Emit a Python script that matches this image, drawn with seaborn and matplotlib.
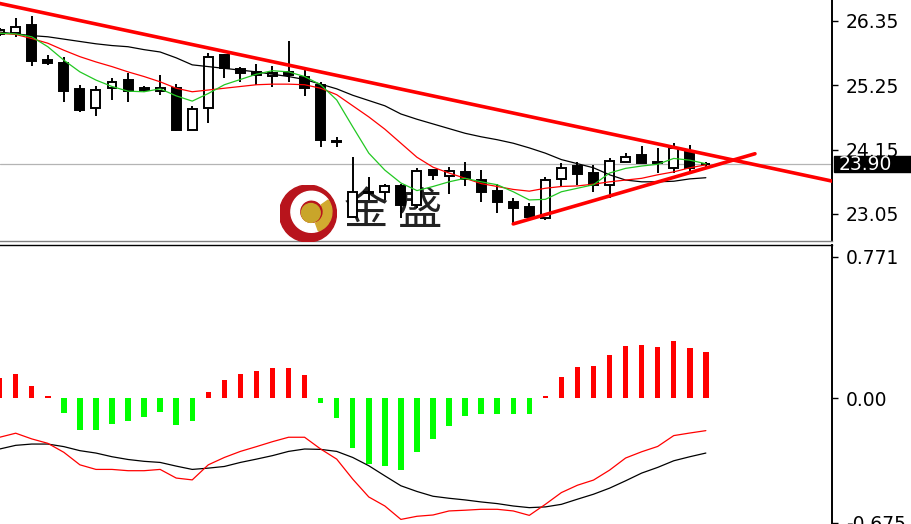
import numpy as np
import pandas as pd
import matplotlib.pyplot as plt
import matplotlib.transforms as mtransforms
from matplotlib.patches import Circle, Wedge, Rectangle
import seaborn as sns

# candles (one per bar, oldest first)
opens = [26.13, 26.14, 26.28, 25.68, 25.64, 25.18, 24.87, 25.21, 25.34, 25.20,
         25.16, 25.20, 24.49, 24.86, 25.77, 25.53, 25.47, 25.41, 25.48, 25.40,
         25.26, 24.29, 23.00, 23.43, 23.42, 23.52, 23.20, 23.80, 23.70, 23.76,
         23.63, 23.45, 23.26, 23.17, 22.98, 23.65, 23.87, 23.75, 23.55, 23.94,
         24.06, 23.94, 23.84, 24.13, 23.90]
highs = [26.23, 26.40, 26.44, 25.77, 25.74, 25.26, 25.23, 25.38, 25.46, 25.24,
         25.43, 25.27, 24.90, 25.80, 25.79, 25.56, 25.61, 25.58, 26.00, 25.51,
         25.31, 24.37, 24.03, 23.68, 23.57, 23.56, 23.83, 23.80, 23.86, 23.94,
         23.80, 23.57, 23.32, 23.24, 23.68, 23.93, 23.94, 23.89, 24.00, 24.10,
         24.21, 24.17, 24.26, 24.23, 23.94]
lows = [26.09, 26.08, 25.58, 25.60, 24.97, 24.80, 24.73, 25.00, 24.97, 25.14,
        25.08, 24.47, 24.48, 24.60, 25.37, 25.31, 25.26, 25.22, 25.31, 25.07,
        24.20, 24.20, 22.98, 23.29, 23.29, 22.98, 23.15, 23.63, 23.40, 23.53,
        23.26, 23.06, 22.88, 22.95, 22.95, 23.53, 23.55, 23.43, 23.32, 23.94,
        23.92, 23.75, 23.75, 23.77, 23.85]
closes = [26.20, 26.25, 25.67, 25.63, 25.15, 24.83, 25.17, 25.31, 25.16, 25.17,
          25.21, 24.48, 24.84, 25.74, 25.54, 25.46, 25.42, 25.46, 25.43, 25.20,
          24.31, 24.28, 23.43, 23.41, 23.52, 23.20, 23.79, 23.72, 23.78, 23.65,
          23.43, 23.26, 23.15, 22.99, 23.63, 23.83, 23.73, 23.55, 23.96, 24.03,
          23.92, 23.92, 24.17, 23.84, 23.90]

# moving averages
ma_green = [26.14, 26.13, 26.08, 25.91, 25.68, 25.48, 25.34, 25.23, 25.15, 25.14,
            25.19, 25.07, 24.98, 25.11, 25.26, 25.35, 25.44, 25.50, 25.48, 25.40,
            25.26, 25.00, 24.54, 24.09, 23.80, 23.58, 23.45, 23.52, 23.60, 23.66,
            23.60, 23.55, 23.43, 23.29, 23.30, 23.43, 23.49, 23.55, 23.75, 23.83,
            23.87, 23.90, 24.00, 23.97, 23.91]
ma_red = [26.14, 26.12, 26.05, 25.97, 25.85, 25.74, 25.65, 25.57, 25.48, 25.40,
          25.31, 25.20, 25.14, 25.17, 25.20, 25.23, 25.26, 25.27, 25.27, 25.26,
          25.20, 25.09, 24.90, 24.71, 24.50, 24.26, 24.02, 23.85, 23.75, 23.66,
          23.57, 23.52, 23.47, 23.44, 23.49, 23.52, 23.53, 23.56, 23.60, 23.63,
          23.66, 23.72, 23.77, 23.84, 23.89]
ma_black = [26.16, 26.13, 26.10, 26.08, 26.04, 26.00, 25.96, 25.93, 25.91, 25.86,
            25.82, 25.72, 25.60, 25.57, 25.54, 25.51, 25.48, 25.44, 25.40, 25.35,
            25.27, 25.19, 25.08, 24.99, 24.90, 24.76, 24.67, 24.59, 24.51, 24.43,
            24.37, 24.32, 24.26, 24.18, 24.09, 23.98, 23.91, 23.84, 23.72, 23.63,
            23.60, 23.60, 23.61, 23.65, 23.67]

# MACD panel
macd_hist = [0.113, 0.135, 0.066, 0.015, -0.078, -0.171, -0.171, -0.137, -0.122, -0.100,
             -0.071, -0.142, -0.122, 0.033, 0.098, 0.135, 0.149, 0.164, 0.164, 0.127,
             -0.024, -0.108, -0.271, -0.359, -0.366, -0.390, -0.293, -0.222, -0.151, -0.098,
             -0.084, -0.084, -0.084, -0.084, 0.015, 0.115, 0.171, 0.178, 0.235, 0.286,
             0.293, 0.280, 0.315, 0.273, 0.251]
macd_red = [-0.211, -0.189, -0.220, -0.244, -0.293, -0.361, -0.386, -0.386, -0.393, -0.393,
            -0.386, -0.433, -0.443, -0.361, -0.321, -0.288, -0.262, -0.235, -0.211, -0.211,
            -0.275, -0.330, -0.439, -0.536, -0.585, -0.658, -0.641, -0.634, -0.612, -0.608,
            -0.603, -0.603, -0.612, -0.636, -0.576, -0.512, -0.472, -0.444, -0.390, -0.324,
            -0.290, -0.261, -0.202, -0.188, -0.175]
macd_black = [-0.275, -0.255, -0.248, -0.248, -0.262, -0.284, -0.297, -0.317, -0.332, -0.342,
              -0.348, -0.368, -0.386, -0.379, -0.370, -0.348, -0.330, -0.311, -0.288, -0.275,
              -0.277, -0.288, -0.321, -0.366, -0.421, -0.475, -0.506, -0.532, -0.543, -0.552,
              -0.563, -0.572, -0.585, -0.594, -0.590, -0.576, -0.548, -0.521, -0.488, -0.448,
              -0.406, -0.375, -0.339, -0.317, -0.297]

last_price = 23.90
price_ticks = [26.35, 25.25, 24.15, 23.05]
price_labels = ["26.35", "25.25", "24.15", "23.05"]
macd_ticks = [0.771, 0.0, -0.675]
macd_labels = ["0.771", "0.00", "-0.675"]

# hand drawn trend lines (bar index, price)
upper_x = [0, 51.9]
upper_y = [26.65, 23.61]
lower_x = [32, 47.06]
lower_y = [22.88, 24.08]

sns.set_style("white")
plt.rcParams['font.family'] = ['DejaVu Sans', 'Noto Sans CJK SC']

W, H = 911, 524
fig = plt.figure(figsize=(W / 100, H / 100), dpi=100)
ax1 = fig.add_axes([0, 1 - 241 / H, 832 / W, 241 / H])
ax2 = fig.add_axes([0, 0, 832 / W, 1 - 245 / H])

df = pd.DataFrame({"open": opens, "high": highs, "low": lows, "close": closes})
df["x"] = np.arange(len(df))
up = df["close"] >= df["open"]

# candles
ax1.vlines(df["x"], df["low"], df["high"], color="black", lw=1.4, zorder=3)
ax1.bar(df["x"], (df["close"] - df["open"]).abs(), bottom=df[["open", "close"]].min(axis=1),
        width=0.56, color=np.where(up, "white", "black"), edgecolor="black",
        linewidth=1.4, zorder=4)

sns.lineplot(x=df["x"], y=ma_black, ax=ax1, color="black", lw=0.9, zorder=5)
sns.lineplot(x=df["x"], y=ma_red, ax=ax1, color="#ff0000", lw=0.9, zorder=5)
sns.lineplot(x=df["x"], y=ma_green, ax=ax1, color="#22c822", lw=0.9, zorder=5)

ax1.plot(upper_x, upper_y, color="#ff0000", lw=2.6, zorder=6)
ax1.plot(lower_x, lower_y, color="#ff0000", lw=2.6, zorder=6)
ax1.axhline(last_price, color="#b4b4b4", lw=0.9, zorder=1)

# watermark
ax1.text(366 / 832, 0.125, "金", transform=ax1.transAxes, fontsize=32,
         family=["Noto Sans CJK SC"], color="#222222", ha="center", va="center", zorder=2)
ax1.text(419 / 832, 0.125, "盛", transform=ax1.transAxes, fontsize=32,
         family=["Noto Sans CJK SC"], color="#222222", ha="center", va="center", zorder=2)

logo = fig.add_axes([279 / W, 1 - 242 / H, 58 / W, 57 / H])
logo.set_xlim(-1, 1)
logo.set_ylim(-1, 1)
logo.set_aspect("equal")
logo.axis("off")
logo.add_patch(Circle((0, 0), 1, color="#b8141c"))
logo.add_patch(Wedge((0.12, 0.06), 0.72, 35, 290, width=0.3, color="white"))
logo.add_patch(Wedge((0.12, 0.06), 0.72, -70, 35, width=0.3, color="#d2aa30"))
logo.add_patch(Circle((0.1, 0.02), 0.33, color="#c9a52a"))

ax1.set_xlim(0.022, 51.86)
ax1.set_ylim(22.588, 26.709)
ax1.set_xticks([])
ax1.yaxis.tick_right()
ax1.set_yticks(price_ticks)
ax1.set_yticklabels(price_labels)
ax1.tick_params(axis="y", length=4, width=1, pad=6, labelsize=13.5, colors="black")
for s in ["top", "left"]:
    ax1.spines[s].set_visible(False)
ax1.spines["bottom"].set_color("#808080")
ax1.spines["bottom"].set_linewidth(1)
ax1.spines["right"].set_color("black")
ax1.spines["right"].set_linewidth(1.4)
ax1.set_xlabel("")
ax1.set_ylabel("")

# current price box
blend = mtransforms.blended_transform_factory(fig.transFigure, ax1.transData)
fig.add_artist(Rectangle((834 / W, last_price - 0.137), 0.1, 0.274, transform=blend,
                         color="black", zorder=5))
fig.text(839 / W, last_price, "23.90", transform=blend, color="white", fontsize=13.5,
         va="center", ha="left", zorder=6)

# MACD
hist = np.array(macd_hist)
ax2.bar(df["x"], hist, width=0.34, color=np.where(hist >= 0, "#ff0000", "#00ff00"),
        linewidth=0, zorder=2)
sns.lineplot(x=df["x"], y=macd_black, ax=ax2, color="black", lw=0.9, zorder=3)
sns.lineplot(x=df["x"], y=macd_red, ax=ax2, color="#ff0000", lw=0.9, zorder=3)

ax2.set_xlim(0.022, 51.86)
ax2.set_ylim(-0.683, 0.835)
ax2.set_xticks([])
ax2.yaxis.tick_right()
ax2.set_yticks(macd_ticks)
ax2.set_yticklabels(macd_labels)
ax2.tick_params(axis="y", length=4, width=1, pad=6, labelsize=13.5, colors="black")
for s in ["bottom", "left"]:
    ax2.spines[s].set_visible(False)
ax2.spines["top"].set_color("black")
ax2.spines["top"].set_linewidth(1)
ax2.spines["right"].set_color("black")
ax2.spines["right"].set_linewidth(1.4)
ax2.set_xlabel("")
ax2.set_ylabel("")

fig.savefig("out.png", dpi=100)
